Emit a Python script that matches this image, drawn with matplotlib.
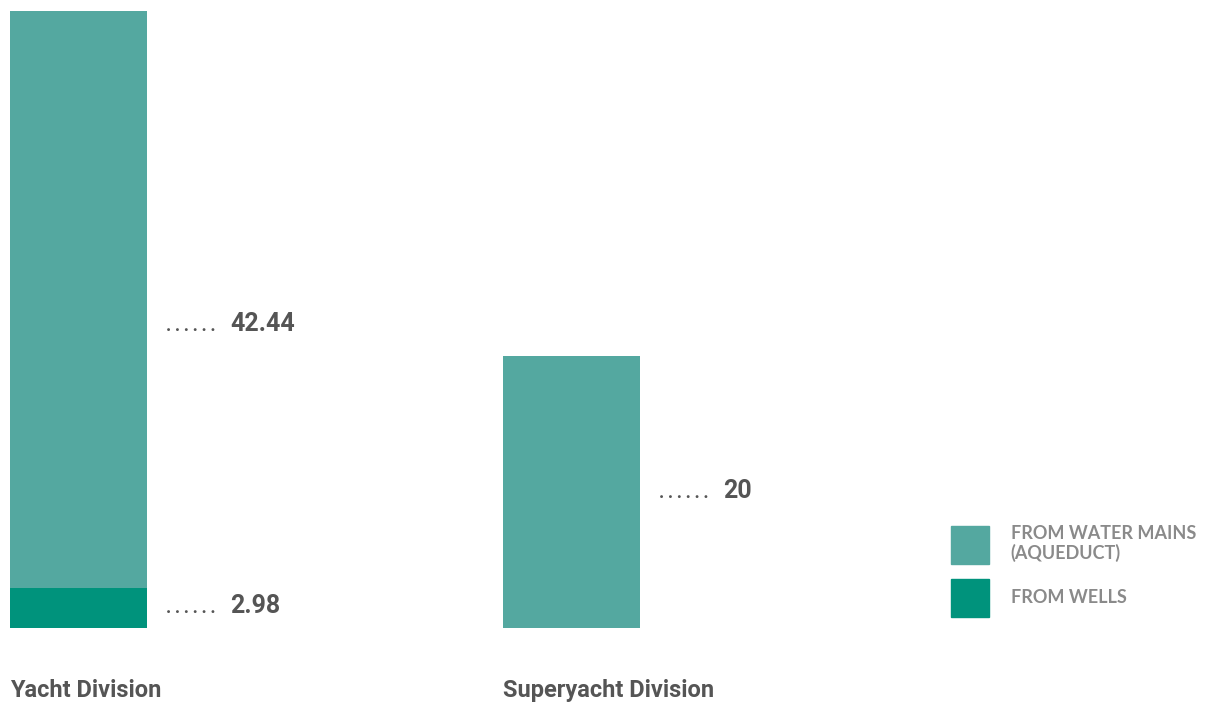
import matplotlib.pyplot as plt
from matplotlib.patches import Patch

categories = ["Yacht Division", "Superyacht Division"]
wells = [2.98, 0]
mains = [42.44, 20]
legend_labels = ["FROM WATER MAINS\n(AQUEDUCT)", "FROM WELLS"]

c_mains = "#54A8A0"
c_wells = "#00937C"
c_text = "#555555"
c_legend = "#8a8a8a"

W, H = 1213, 704
fig = plt.figure(figsize=(W / 100, H / 100), dpi=100)

# bars: centres 493 px apart, 137 px wide, left edge at 10 px
step = 493.0
w = 137 / step
total = max(a + b for a, b in zip(wells, mains))
ax = fig.add_axes([10 / W, 76 / H, 1203 / W, 617 / H])
ax.set_xlim(-w / 2, -w / 2 + 1203 / step)
ax.set_ylim(0, total)
ax.axis("off")

x = list(range(len(categories)))
ax.bar(x, wells, width=w, color=c_wells, label=legend_labels[1])
ax.bar(x, mains, width=w, bottom=wells, color=c_mains, label=legend_labels[0])

fnt = "Roboto"
dots = "\u2009".join(["."] * 6)
for i in x:
    segs = []
    if wells[i] > 0:
        segs.append((wells[i], wells[i] / 2, -4))
    # the top label sits a bit below the middle of the whole bar
    segs.append((mains[i], (wells[i] + mains[i]) / 2, -4 - 4 * (wells[i] > 0)))
    for v, yy, dy in segs:
        ax.annotate(dots, xy=(i + w / 2, yy), xytext=(14, dy), textcoords="offset points",
                    ha="left", va="baseline", fontsize=13, color=c_text, fontweight="bold",
                    family=fnt)
        ax.annotate(f"{v:g}", xy=(i + w / 2, yy), xytext=(60, dy), textcoords="offset points",
                    ha="left", va="baseline", fontsize=18, color=c_text, fontweight="bold",
                    family=fnt)
    ax.annotate(categories[i], xy=(i - w / 2, 0), xytext=(0, -45), textcoords="offset points",
                ha="left", va="center", fontsize=17, color=c_text, fontweight="bold",
                family=fnt, annotation_clip=False)

handles = [Patch(color=c_mains), Patch(color=c_wells)]
leg = fig.legend(handles, legend_labels, loc="upper left",
                 bbox_to_anchor=(951 / W, 1 - 525 / H), frameon=False, borderpad=0,
                 borderaxespad=0, handlelength=2.11, handleheight=2.87, handletextpad=1.2,
                 labelspacing=0.8, prop={"family": "Lato", "size": 13, "weight": "bold"})
for t in leg.get_texts():
    t.set_color(c_legend)
    t.set_linespacing(1.15)

fig.savefig("out.png", dpi=100)
